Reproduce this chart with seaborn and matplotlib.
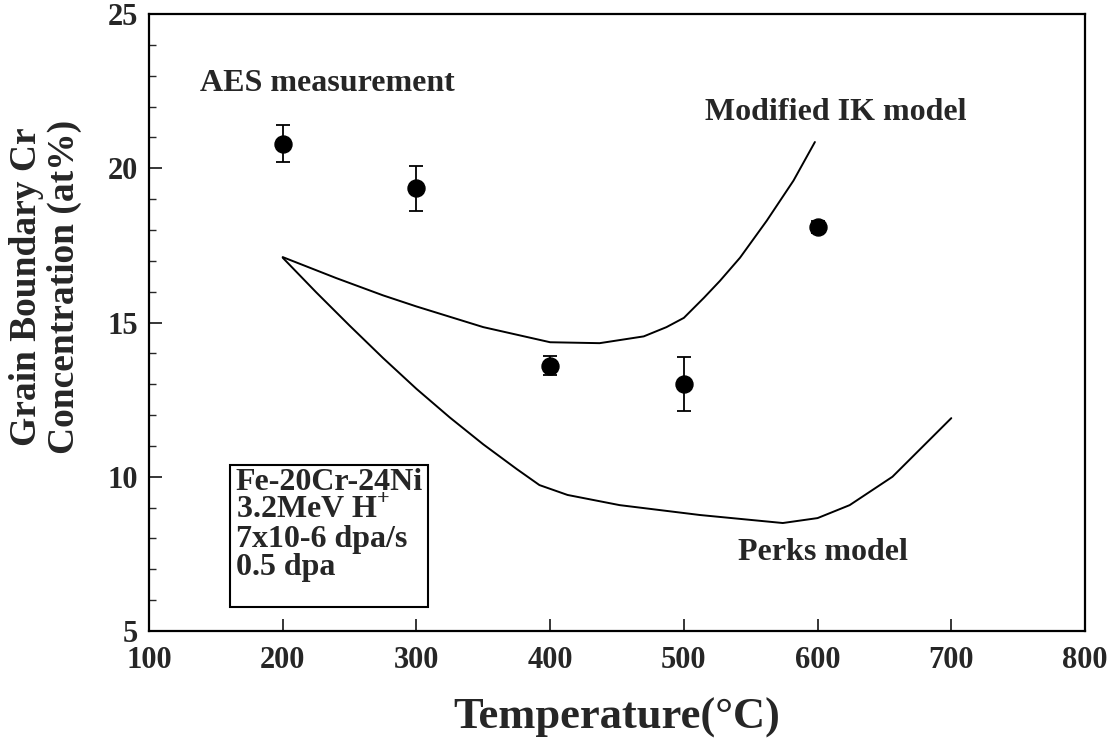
import numpy as np
import pandas as pd
import matplotlib
matplotlib.use("Agg")
import matplotlib.pyplot as plt
import seaborn as sns
from matplotlib.patches import Rectangle
from matplotlib.ticker import MultipleLocator

# ---- data ----
aes_temp = [200, 300, 400, 500, 600]
aes_cr = [20.8, 19.35, 13.6, 13.0, 18.1]
aes_err = [0.6, 0.72, 0.3, 0.88, 0.2]

ik_temp = [200, 240, 275, 300, 350, 400, 437, 470, 487, 500, 515, 527, 542, 562, 582, 598]
ik_cr = [17.12, 16.44, 15.88, 15.52, 14.85, 14.36, 14.33, 14.55, 14.85, 15.15, 15.8, 16.35, 17.1, 18.3, 19.6, 20.85]

perks_temp = [200, 225, 250, 275, 300, 325, 350, 375, 392, 413, 452, 512, 574, 600, 624, 656, 700]
perks_cr = [17.1, 15.98, 14.9, 13.85, 12.85, 11.92, 11.05, 10.25, 9.73, 9.41, 9.08, 8.76, 8.5, 8.66, 9.08, 10.0, 11.9]

x_ticks = [100, 200, 300, 400, 500, 600, 700, 800]
y_ticks = [5, 10, 15, 20, 25]

box_lines = ["Fe-20Cr-24Ni", "3.2MeV H$^{\\mathbf{+}}$", "7x10-6 dpa/s", "0.5 dpa"]

# ---- style ----
sns.set_theme(style="ticks")
plt.rcParams['font.family'] = ['Liberation Serif', 'DejaVu Serif']
plt.rcParams['font.weight'] = 'bold'
plt.rcParams['mathtext.fontset'] = 'custom'
plt.rcParams['mathtext.rm'] = 'Liberation Serif:bold'
plt.rcParams['mathtext.bf'] = 'Liberation Serif:bold'

fig = plt.figure(figsize=(11.15, 7.49), dpi=100)
ax = fig.add_axes([149 / 1115, 1 - 631 / 749, 936 / 1115, 617 / 749])

ik_df = pd.DataFrame({"T": ik_temp, "Cr": ik_cr})
perks_df = pd.DataFrame({"T": perks_temp, "Cr": perks_cr})
aes_df = pd.DataFrame({"T": aes_temp, "Cr": aes_cr, "err": aes_err})

sns.lineplot(data=ik_df, x="T", y="Cr", ax=ax, color="black", lw=1.4, sort=False)
sns.lineplot(data=perks_df, x="T", y="Cr", ax=ax, color="black", lw=1.4, sort=False)
ax.errorbar(aes_df["T"], aes_df["Cr"], yerr=aes_df["err"], fmt="none",
            ecolor="black", elinewidth=1.3, capsize=5, capthick=1.3)
sns.scatterplot(data=aes_df, x="T", y="Cr", ax=ax, color="black", s=150,
                edgecolor="black", zorder=5)

ax.set_xlim(100, 800)
ax.set_ylim(5, 25)
ax.set_xticks(x_ticks)
ax.set_yticks(y_ticks)
ax.yaxis.set_minor_locator(MultipleLocator(1))
ax.tick_params(axis="both", which="major", direction="in", length=9, width=1.3,
               labelsize=22, top=False, right=False)
ax.tick_params(axis="x", pad=11)
ax.tick_params(axis="y", pad=8)
ax.tick_params(axis="y", which="minor", direction="in", length=5, width=1.0)
for lab in ax.get_xticklabels() + ax.get_yticklabels():
    lab.set_fontweight("bold")
for sp in ax.spines.values():
    sp.set_linewidth(1.6)
    sp.set_color("black")

ax.set_xlabel("Temperature(°C)", fontsize=32, fontweight="bold")
ax.xaxis.set_label_coords(0.5, -0.141)
ax.xaxis.label.set_va("center")
ax.set_ylabel("Grain Boundary Cr\nConcentration (at%)", fontsize=27,
              fontweight="bold", linespacing=1.1)
ax.yaxis.set_label_coords(-0.111, 0.5575)
ax.yaxis.label.set_va("center")

ax.text(138, 22.75, "AES measurement", fontsize=23, fontweight="bold",
        ha="left", va="center")
ax.text(516, 21.82, "Modified IK model", fontsize=23, fontweight="bold",
        ha="left", va="center")
ax.text(540.5, 7.56, "Perks model", fontsize=23, fontweight="bold",
        ha="left", va="center")

ax.add_patch(Rectangle((160.6, 5.78), 148.1, 4.6, fill=False, ec="black",
                       lw=1.5, zorder=4))
for i, line in enumerate(box_lines):
    ax.text(165, 9.82 - i * 0.92, line, fontsize=23, fontweight="bold",
            ha="left", va="center")

fig.savefig("out.png", dpi=100, facecolor="white")
